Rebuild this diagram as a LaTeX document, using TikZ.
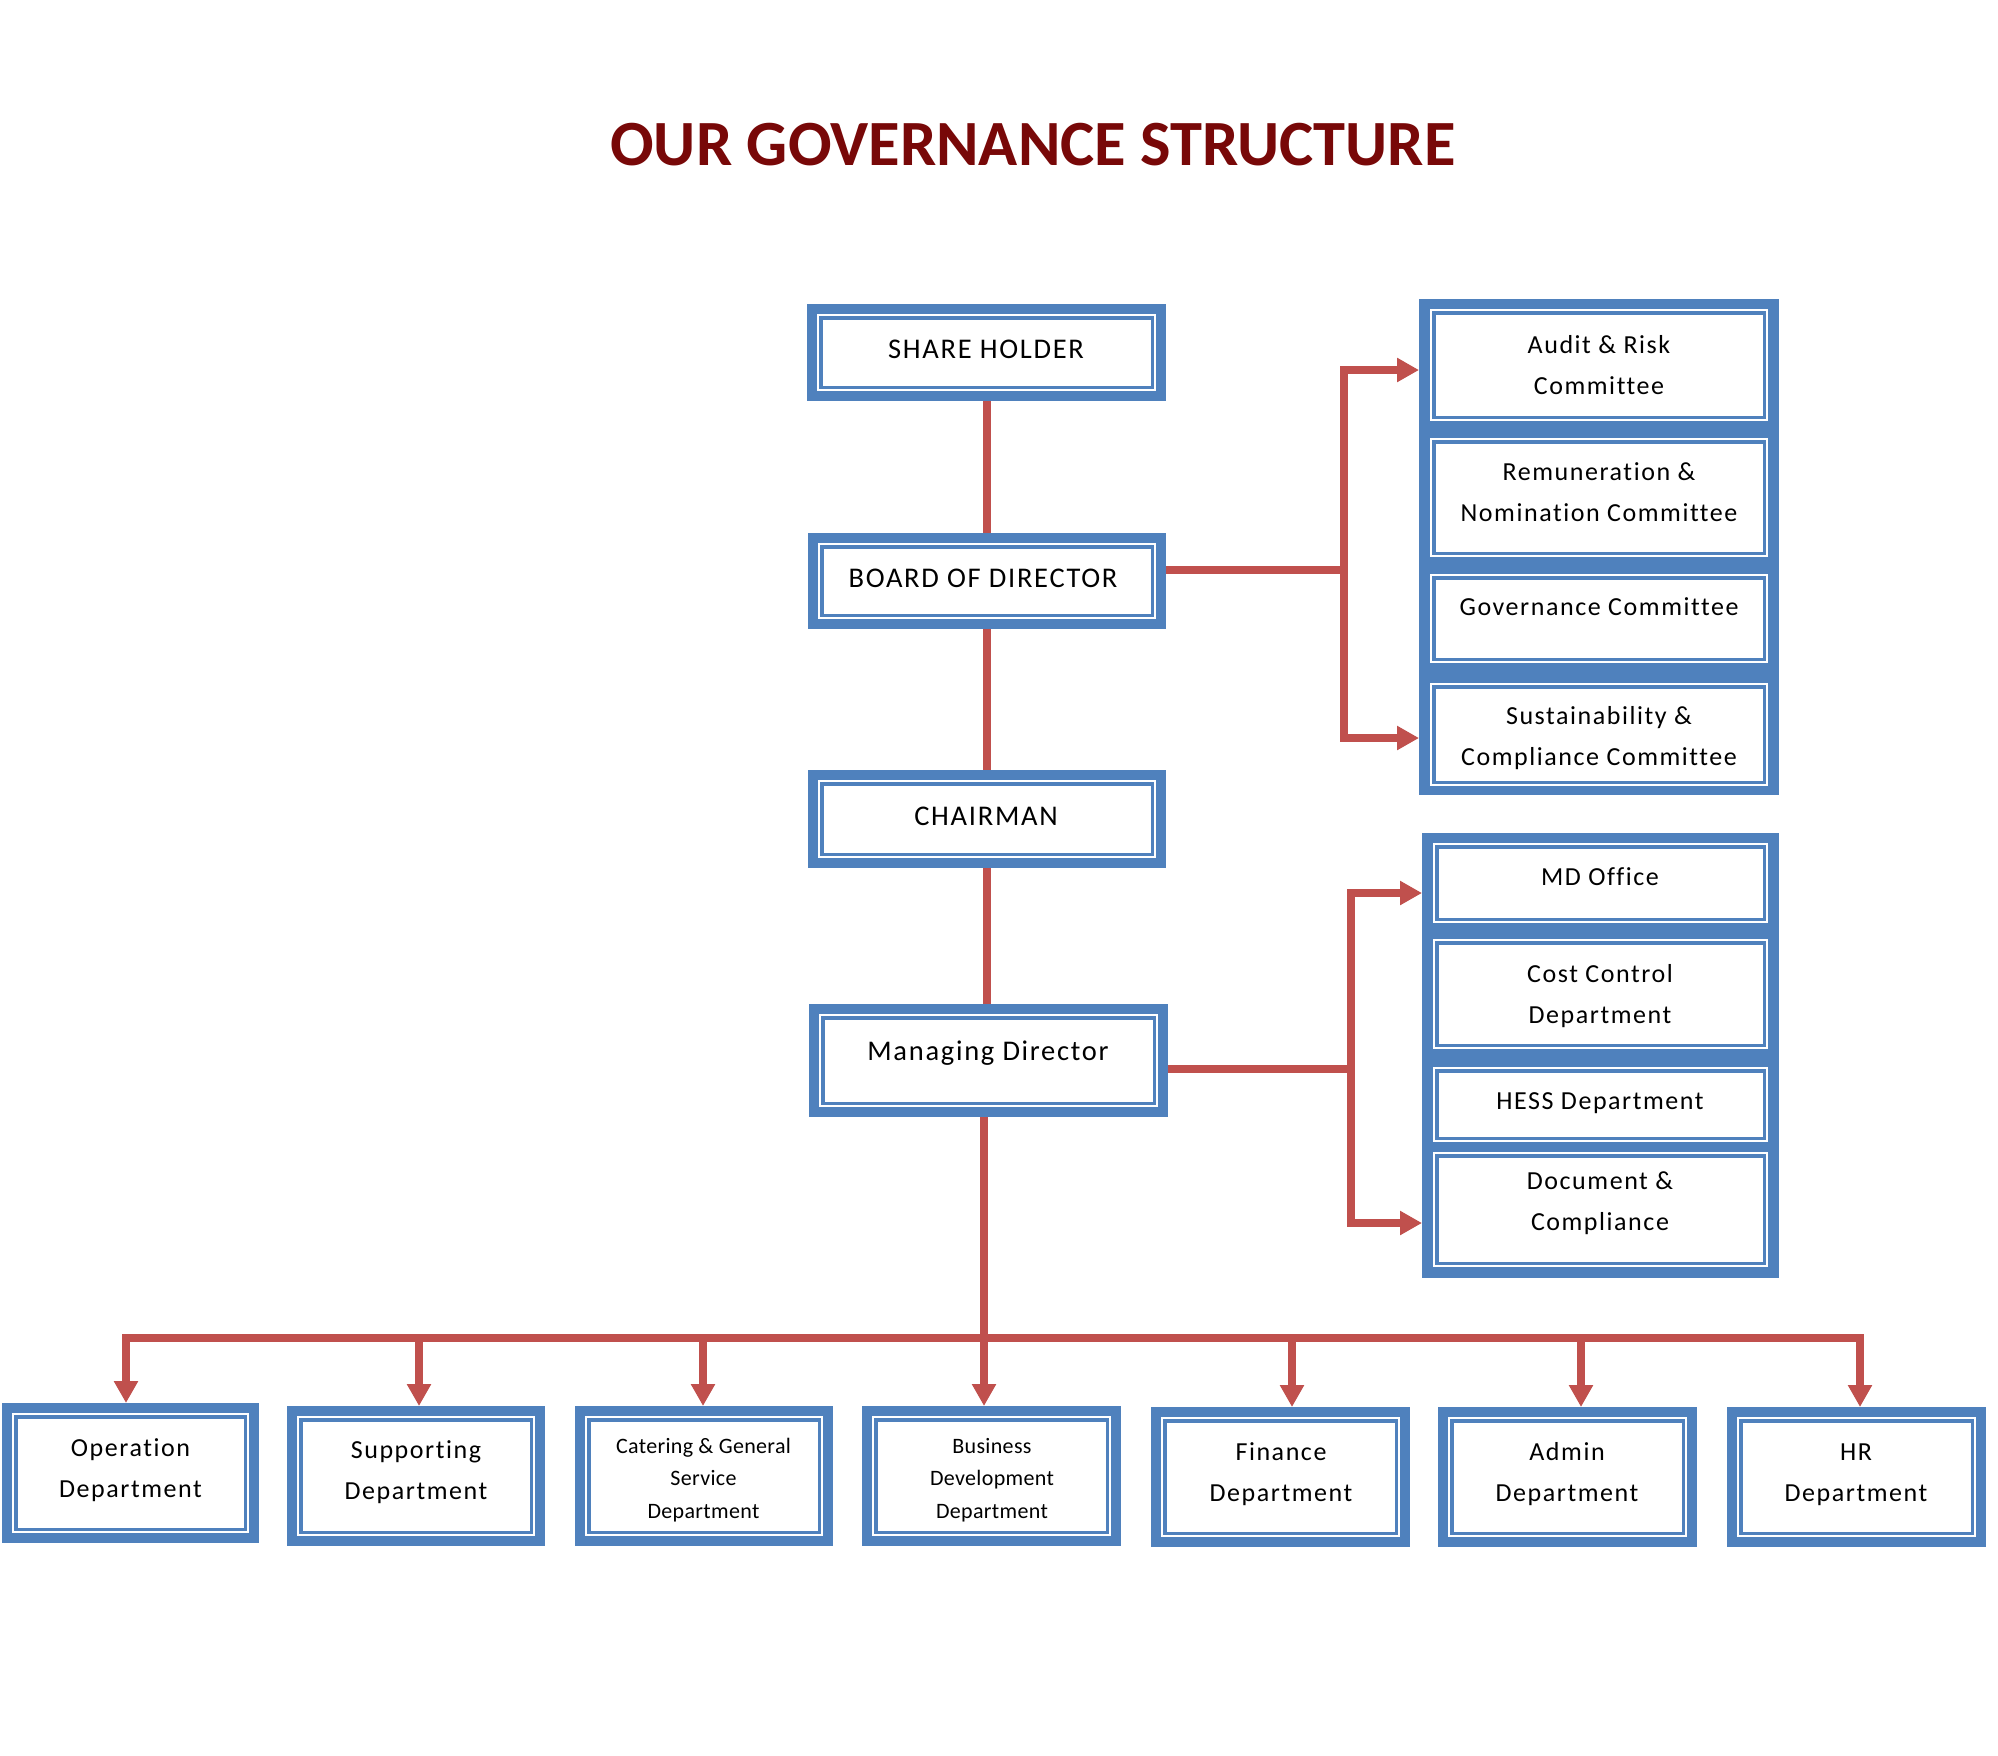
\documentclass[tikz,border=0pt]{standalone}
\usepackage{fontspec}
\setmainfont{Carlito}[Ligatures=NoCommon]
\newfontfamily\spaced[LetterSpace=6,Ligatures=NoCommon]{Carlito}
\newfontfamily\spacedsmall[LetterSpace=1.5,Ligatures=NoCommon]{Carlito}
\usetikzlibrary{arrows.meta}
\definecolor{myblue}{HTML}{4F81BD}
\definecolor{myred}{HTML}{C0504D}
\definecolor{titlered}{HTML}{780808}
\newcommand\fmain{\spaced\fontsize{28.5}{41}\selectfont}
\newcommand\fsub{\spaced\fontsize{26}{41.5}\selectfont}
\newcommand\fsmall{\spacedsmall\fontsize{22}{32.5}\selectfont}
\newcommand\ftitle{\bfseries\fontsize{64.5}{70}\selectfont}
\newcommand\mkbox[6]{\node[#1, minimum width={(#4-#3)*1pt}, minimum height={(#6-#5)*1pt}] (#2) at ({(#3+#4)/2},{(#5+#6)/2}) {};}
\newcommand\mytext[5]{\node[anchor=base, inner sep=0, outer sep=0, font=#4] (#1) at (#2,#3) {\begin{tabular}[t]{@{}c@{}}#5\end{tabular}};}
\tikzset{
  outerbox/.style={fill=myblue, inner sep=0, outer sep=0, path picture={
    \fill[white] ([shift={(15.5pt,-15.5pt)}]path picture bounding box.north west) rectangle ([shift={(-15.5pt,15.5pt)}]path picture bounding box.south east);
    \draw[white, line width=2pt] ([shift={(11pt,-11pt)}]path picture bounding box.north west) rectangle ([shift={(-11pt,11pt)}]path picture bounding box.south east);}},
  groupbox/.style={fill=myblue, inner sep=0, outer sep=0},
  subbox/.style={fill=myblue, inner sep=0, outer sep=0, path picture={
    \fill[white] ([shift={(5.5pt,-5.5pt)}]path picture bounding box.north west) rectangle ([shift={(-5.5pt,5.5pt)}]path picture bounding box.south east);
    \draw[white, line width=2pt] ([shift={(1.2pt,-1.2pt)}]path picture bounding box.north west) rectangle ([shift={(-1.2pt,1.2pt)}]path picture bounding box.south east);}},
  conn/.style={draw=myred, line width=8pt},
  tipend/.style={-{Triangle[length=22pt,width=23pt]}},
  tipboth/.style={{Triangle[length=22pt,width=23pt]}-{Triangle[length=22pt,width=23pt]}}
}
\begin{document}
\begin{tikzpicture}[x=1pt,y=-1pt]
\fill[white] (0,0) rectangle (1998,1756);
\useasboundingbox (0,0) rectangle (1998,1756);

% title
\node[anchor=base, font=\ftitle, text=titlered, inner sep=0] (title) at (1033,165) {OUR GOVERNANCE STRUCTURE};

% central boxes
\mkbox{outerbox}{sh}{807}{1166}{304}{401}
\mkbox{outerbox}{bd}{808}{1166}{533}{629}
\mkbox{outerbox}{ch}{808}{1166}{770}{868}
\mkbox{outerbox}{md}{809}{1168}{1004}{1117}

% committee group
\mkbox{groupbox}{cg}{1419}{1779}{299}{795}
\mkbox{subbox}{c1}{1430}{1768}{309}{421}
\mkbox{subbox}{c2}{1430}{1768}{438}{557}
\mkbox{subbox}{c3}{1430}{1768}{574}{663}
\mkbox{subbox}{c4}{1430}{1768}{683}{786}

% MD group
\mkbox{groupbox}{mg}{1422}{1779}{833}{1278}
\mkbox{subbox}{m1}{1433}{1768}{843}{923}
\mkbox{subbox}{m2}{1433}{1768}{939}{1049}
\mkbox{subbox}{m3}{1433}{1768}{1067}{1142}
\mkbox{subbox}{m4}{1433}{1768}{1152}{1267}

% departments
\mkbox{outerbox}{op}{2}{259}{1403}{1543}
\mkbox{outerbox}{su}{287}{545}{1406}{1546}
\mkbox{outerbox}{ca}{575}{833}{1406}{1546}
\mkbox{outerbox}{bu}{862}{1121}{1406}{1546}
\mkbox{outerbox}{fi}{1151}{1410}{1407}{1547}
\mkbox{outerbox}{ad}{1438}{1697}{1407}{1547}
\mkbox{outerbox}{hr}{1727}{1986}{1407}{1547}

% texts
\mytext{shT}{986}{358}{\fmain}{SHARE HOLDER}
\mytext{bdT}{983}{587}{\fmain}{BOARD OF DIRECTOR}
\mytext{chT}{986}{825}{\fmain}{CHAIRMAN}
\mytext{mdT}{988}{1060}{\fmain}{Managing Director}

\mytext{c1T}{1599}{353}{\fsub}{Audit \& Risk\\Committee}
\mytext{c2T}{1599}{480}{\fsub}{Remuneration \&\\Nomination Committee}
\mytext{c3T}{1599}{615}{\fsub}{Governance Committee}
\mytext{c4T}{1599}{724}{\fsub}{Sustainability \&\\Compliance Committee}

\mytext{m1T}{1600}{885}{\fsub}{MD Office}
\mytext{m2T}{1600}{982}{\fsub}{Cost Control\\Department}
\mytext{m3T}{1600}{1109}{\fsub}{HESS Department}
\mytext{m4T}{1600}{1189}{\fsub}{Document \&\\Compliance}

\mytext{opT}{130.5}{1456}{\fsub}{Operation\\Department}
\mytext{suT}{416}{1458}{\fsub}{Supporting\\Department}
\mytext{caT}{703.5}{1453}{\fsmall}{Catering \& General\\Service\\Department}
\mytext{buT}{992}{1453}{\fsmall}{Business\\Development\\Department}
\mytext{fiT}{1281}{1460}{\fsub}{Finance\\Department}
\mytext{adT}{1567}{1460}{\fsub}{Admin\\Department}
\mytext{hrT}{1856}{1460}{\fsub}{HR\\Department}

% connectors: vertical chain
\draw[conn] (sh.south) -- (sh.south |- bd.north);
\draw[conn] (bd.south) -- (bd.south |- ch.north);
\draw[conn] (ch.south) -- (ch.south |- md.north);

% board to committees
\coordinate (cj) at (1344,570);
\coordinate (cu) at (1344,370);
\coordinate (cl) at (1344,738);
\draw[conn] ([yshift=11pt]bd.east) -- (cj);
\draw[conn, tipboth] (cu -| cg.west) -- (cu) -- (cl) -- (cl -| cg.west);

% MD to MD group
\coordinate (mj) at (1351,1069);
\coordinate (mu) at (1351,893);
\coordinate (ml) at (1351,1223);
\draw[conn] ([yshift=-8.5pt]md.east) -- (mj);
\draw[conn, tipboth] (mu -| mg.west) -- (mu) -- (ml) -- (ml -| mg.west);

% MD to departments
\coordinate (dop) at (126,1338);
\coordinate (dsu) at (419,1338);
\coordinate (dca) at (703,1338);
\coordinate (dbu) at (984,1338);
\coordinate (dfi) at (1292,1338);
\coordinate (dad) at (1581,1338);
\coordinate (dhr) at (1860,1338);
\draw[conn, tipend] (md.south -| dbu) -- (dbu |- bu.north);
\draw[conn, tipboth] (dop |- op.north) -- (dop) -- (dhr) -- (dhr |- hr.north);
\draw[conn, tipend] (dsu) -- (dsu |- su.north);
\draw[conn, tipend] (dca) -- (dca |- ca.north);
\draw[conn, tipend] (dfi) -- (dfi |- fi.north);
\draw[conn, tipend] (dad) -- (dad |- ad.north);
\end{tikzpicture}
\end{document}
